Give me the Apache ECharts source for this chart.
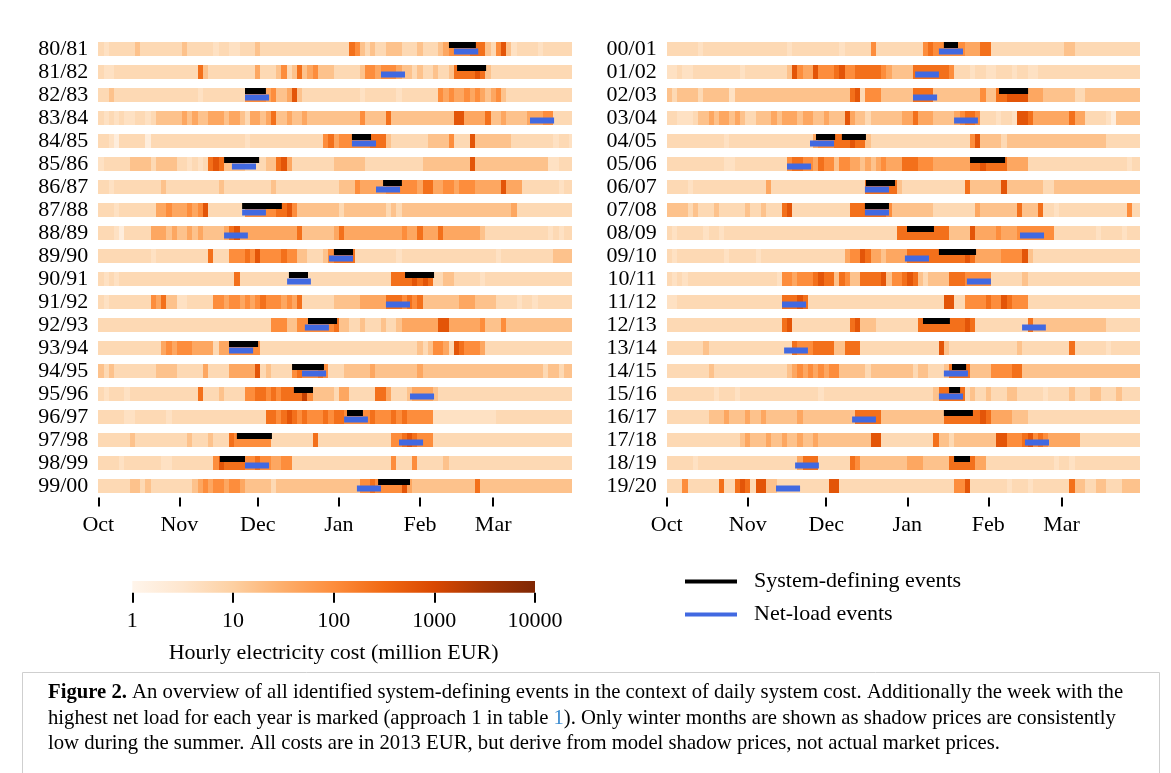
<!DOCTYPE html>
<html>
<head>
<meta charset="utf-8">
<title>System-defining events and daily system cost</title>
<script src="https://cdn.jsdelivr.net/npm/echarts@6.0.0/dist/echarts.min.js"></script>
<style>
html, body { margin: 0; padding: 0; background: #fff; }
#chart { width: 1171px; height: 773px; }
</style>
</head>
<body>
<div id="chart"></div>
<script>
// winter seasons, one strip each
var yearsLeft = ['80/81','81/82','82/83','83/84','84/85','85/86','86/87','87/88','88/89','89/90',
                 '90/91','91/92','92/93','93/94','94/95','95/96','96/97','97/98','98/99','99/00'];
var yearsRight = ['00/01','01/02','02/03','03/04','04/05','05/06','06/07','07/08','08/09','09/10',
                  '10/11','11/12','12/13','13/14','14/15','15/16','16/17','17/18','18/19','19/20'];

// x axis: days since 1 Oct
var monthTicks = [0, 31, 61, 92, 123, 151];
var monthNames = ['Oct', 'Nov', 'Dec', 'Jan', 'Feb', 'Mar'];
var DAYS = 181;

// cost levels (million EUR) used by the strings below, one digit per 2 days
var levelCost = [1.8, 4.2, 6.3, 16, 40, 100, 250, 630, 1600, 4000];

var costLeft = [
  '21222 22322 22222 23222 22122 11222 32222 22222 22222 22265 32322 33322 23222 34555 56663 25731 22221 22222 2',
  '21122 22222 22222 22226 32222 22222 42223 52363 45333 22222 35545 55433 23223 22366 66763 22222 22222 22222 2',
  '22322 22222 22222 22221 22222 22255 55453 34732 22222 22222 12222 22122 22222 54544 54543 45322 22222 22222 2',
  '21212 11221 23333 34343 34443 44324 43463 34334 33333 33333 53333 63333 33333 33377 44446 33433 33444 55222 2',
  '22102 22220 22222 22222 22222 22212 22222 22222 22256 45555 55666 32222 22233 33522 27333 33332 22222 22122 1',
  '12222 23333 23333 22121 26763 33322 22336 74222 22222 33333 32222 22222 22333 33333 37333 33333 33333 31122 2',
  '22122 22222 22322 22222 22232 22222 22232 22222 22222 23335 44444 55555 54664 45545 55444 44744 42222 22212 2',
  '22212 22222 24454 44545 72222 22255 55556 67533 33333 32333 33333 23233 33333 33333 33333 33334 22222 22222 2',
  '22210 22222 44434 33434 33334 67444 44444 44463 33333 46444 44444 44454 46444 64444 44432 22222 22222 21212 2',
  '22222 22222 12222 22222 26222 55565 75555 65533 22235 66662 22222 22122 22222 22222 22222 21222 22222 22333 3',
  '21212 22222 22222 22222 22222 26222 22222 22222 22222 22222 22222 26666 76762 23322 22212 22222 22222 22222 2',
  '21222 22222 54633 11222 22554 55454 56555 45462 22222 33333 44444 66656 56333 33334 44333 32222 12212 22222 2',
  '22222 22222 22222 22222 22222 22222 22255 53355 55555 63322 32223 22344 44444 77444 44453 33533 33333 33333 3',
  '22222 22222 22454 55544 44244 55555 52222 22222 22222 22222 22222 22222 23235 54276 55542 22222 22222 22222 2',
  '32322 22222 23333 22222 42222 44444 72322 22565 55652 22333 33433 33333 34333 33333 33333 33333 33333 23323 3',
  '21222 12222 22222 22226 22232 22255 66565 66668 53333 24422 22266 42223 44443 22222 22222 22222 22222 22222 2',
  '22222 11222 22212 22222 22222 22222 22665 67656 55565 66555 55655 56565 55551 11111 11111 12222 22222 22222 2',
  '22222 23222 22222 22322 23222 65555 55522 22222 26222 22222 22222 25567 65552 22222 22222 22222 22222 22222 2',
  '22221 22222 22112 22222 22576 66655 65544 55222 22222 22222 22222 25222 52222 23222 22222 22222 22222 22222 2',
  '22222 23323 22222 22234 54554 55433 33323 33333 33333 33333 55655 55574 33333 33333 33633 33333 33333 33333 3'
];

var costRight = [
  '22222 21222 22222 22222 22212 22222 22212 22225 22222 22225 65555 55444 66222 22222 22222 23322 22222 22222 2',
  '11211 22222 22221 22222 22237 54475 55675 56666 65433 33666 66665 22212 21122 21221 12222 22222 22222 22222 2',
  '32333 32333 33133 33333 33333 33333 33333 67255 53333 33666 63333 33333 53366 77774 44333 33322 33333 33333 3',
  '22111 23343 44343 22333 43444 34433 43337 43323 33333 44644 43333 45665 22212 21776 44444 44644 22221 03333 3',
  '22222 22222 21222 22222 22222 22245 55666 76632 22222 22222 22222 22257 33332 33333 33333 33333 33332 22222 2',
  '22222 22222 21122 22222 22256 65546 55355 44343 45444 66655 54444 44466 76666 44442 22222 22222 22222 22212 2',
  '22221 22222 22222 22224 22222 22222 22222 22266 66663 22222 22222 22633 33337 33333 33223 33333 33333 33333 3',
  '33332 32223 22222 32232 22672 22222 22222 66666 66533 33333 32222 22224 33333 33633 36221 22222 22222 22252 2',
  '21222 22122 12222 22222 22222 22222 22222 22222 22226 66666 66663 33374 44454 44555 55552 22222 22122 22122 2',
  '21222 22222 21222 22122 22222 22222 22224 55764 43444 46666 66666 66764 44445 55573 22222 22222 22222 22222 2',
  '21212 22222 22222 22222 21554 55567 66365 33666 67355 67632 33336 66555 55222 22232 22222 22222 22222 22222 2',
  '11222 22222 22222 22222 22666 76222 22222 22222 22222 22222 22277 22555 56557 65552 22222 22222 22222 22222 2',
  '22222 22222 22222 22222 22672 22222 22222 67333 22222 22266 66666 66762 22222 22226 33333 33333 33332 22222 2',
  '22222 22322 22222 22222 22226 55566 66336 66222 22222 22222 22732 22222 22222 22322 22222 22622 22221 22222 2',
  '22222 22232 22222 22222 22234 54545 45533 33323 33333 33233 22236 66633 33555 56633 33333 33333 33333 33333 3',
  '22222 22221 22212 22222 22222 22221 22222 22222 22222 22222 23666 66232 23222 33222 22122 22322 23322 23222 2',
  '22222 22233 34333 43343 33333 43333 33333 36666 63333 33333 33366 66666 76444 43332 22222 22222 22222 22222 2',
  '22222 22222 22223 43334 33433 43343 33333 33337 72222 22222 26332 33333 33377 55567 56544 44442 22222 22222 2',
  '22222 12222 22222 22222 22222 46662 22222 65333 33333 34443 33336 66664 42222 22222 22221 22122 22222 22222 2',
  '22252 22222 62267 62773 32222 22222 27722 22222 22222 22222 22222 55722 22222 12221 22222 22633 22332 22333 3'
];

// events: [row, first day, last day]
var sysLeft = [[0,134.1,144.4],[1,137.2,148.3],[2,56.1,64.1],[4,97.0,104.3],[5,48.1,61.5],[6,108.9,116.1],
  [7,55.0,70.2],[9,90.1,97.4],[10,72.9,80.2],[10,117.3,128.4],[12,80.2,91.3],[13,50.0,61.1],[14,74.1,86.3],
  [15,74.8,82.1],[16,95.1,101.2],[17,53.0,66.4],[18,46.5,56.1],[19,107.0,119.2]];
var netLeft = [[0,136.0,145.3],[1,108.1,117.3],[2,56.1,65.3],[3,165.1,174.3],[4,97.0,106.2],[5,51.1,60.3],
  [6,106.2,115.4],[7,55.0,64.1],[8,48.1,57.2],[9,88.2,97.4],[10,72.2,81.3],[11,110.0,119.2],[12,79.0,88.2],
  [13,50.0,59.2],[14,77.9,87.1],[15,119.2,128.4],[16,94.0,103.1],[17,115.0,124.2],[18,56.1,65.3],[19,98.9,108.1]];
var sysRight = [[0,106.0,111.4],[2,127.1,138.2],[4,57.1,64.4],[4,67.0,76.2],[5,116.0,129.4],[6,76.2,87.3],
  [7,75.8,85.0],[8,91.9,102.2],[9,104.1,118.3],[12,98.0,108.3],[14,109.1,114.5],[15,108.0,112.2],
  [16,106.0,117.1],[18,109.9,116.0]];
var netRight = [[0,104.1,113.3],[1,95.0,104.1],[2,94.2,103.4],[3,109.9,119.0],[4,54.8,64.0],[5,46.0,55.2],
  [6,75.8,85.0],[7,75.8,85.0],[8,135.1,144.3],[9,91.1,100.3],[10,114.8,124.0],[11,44.1,53.3],[12,135.9,145.0],
  [13,44.9,54.0],[14,106.0,115.2],[15,104.1,113.3],[16,70.9,80.0],[17,137.0,146.2],[18,49.1,58.2],[19,41.8,51.0]];

var colorbarTicks = [1, 10, 100, 1000, 10000];

var oranges = ['#fff5eb','#fee6ce','#fdd0a2','#fdae6b','#fd8d3c','#f16913','#d94801','#a63603','#7f2704'];
var serif = "'Liberation Serif', 'DejaVu Serif', serif";

function cellsOf(rows) {
  var out = [];
  rows.forEach(function (s, r) {
    var str = s.replace(/ /g, '');
    for (var c = 0; c < str.length && c * 2 < DAYS; c++) {
      out.push([c * 2, r, Math.log10(levelCost[+str[c]])]);
    }
  });
  return out;
}
function eventsOf(list) {
  return list.map(function (e) { return [e[1], e[2], e[0]]; });
}

// cells snapped to whole pixels so neighbours meet without seams
function renderCell(params, api) {
  var x0 = api.value(0), row = api.value(1);
  var x1 = Math.min(x0 + 2, DAYS);
  var a = api.coord([x0, row]);
  var b = api.coord([x1, row]);
  var left = Math.round(a[0]), right = Math.round(b[0]);
  return {
    type: 'rect',
    shape: { x: left, y: Math.round(a[1] - 7), width: right - left, height: 14 },
    style: { fill: api.visual('color') }
  };
}
function renderEvent(offset) {
  return function (params, api) {
    var a = api.coord([api.value(0), api.value(2)]);
    var b = api.coord([api.value(1), api.value(2)]);
    return {
      type: 'rect',
      shape: { x: a[0], y: a[1] + offset, width: b[0] - a[0], height: 6 },
      style: { fill: api.visual('color') }
    };
  };
}

function monthAxis(gridIndex) {
  return {
    type: 'value', gridIndex: gridIndex, min: 0, max: DAYS,
    axisLine: { show: false },
    splitLine: { show: false },
    axisTick: { show: true, customValues: monthTicks, length: 9, lineStyle: { color: '#000', width: 2 } },
    axisLabel: {
      customValues: monthTicks, margin: 17,
      fontFamily: serif, fontSize: 22, color: '#000',
      formatter: function (v) { return monthNames[monthTicks.indexOf(v)]; }
    }
  };
}
function yearAxis(gridIndex, years) {
  return {
    type: 'category', gridIndex: gridIndex, data: years, inverse: true,
    axisLine: { show: false }, axisTick: { show: false },
    axisLabel: { interval: 0, margin: 10, fontFamily: serif, fontSize: 22, color: '#000' }
  };
}

var chart = echarts.init(document.getElementById('chart'));

chart.setOption({
  backgroundColor: '#fff',
  animation: false,
  grid: [
    { left: 98.3, top: 37.5, width: 473.3, height: 460 },
    { left: 666.7, top: 37.5, width: 473.3, height: 460 },
    {
      left: 132.3, top: 581, width: 402.7, height: 11.7, show: true, borderWidth: 0,
      backgroundColor: new echarts.graphic.LinearGradient(0, 0, 1, 0,
        oranges.map(function (c, i) { return { offset: i / (oranges.length - 1), color: c }; }))
    }
  ],
  xAxis: [
    monthAxis(0),
    monthAxis(1),
    {
      type: 'log', gridIndex: 2, min: 1, max: 10000, logBase: 10,
      axisLine: { show: false }, splitLine: { show: false },
      axisTick: { show: true, customValues: colorbarTicks, length: 10, lineStyle: { color: '#000', width: 2 } },
      axisLabel: {
        customValues: colorbarTicks, margin: 18, fontFamily: serif, fontSize: 22, color: '#000',
        formatter: function (v) { return String(Math.round(v)); }
      },
      name: 'Hourly electricity cost (million EUR)', nameLocation: 'middle', nameGap: 50,
      nameTextStyle: { fontFamily: serif, fontSize: 22, color: '#000' }
    }
  ],
  yAxis: [
    yearAxis(0, yearsLeft),
    yearAxis(1, yearsRight),
    { type: 'value', gridIndex: 2, show: false, min: 0, max: 1 }
  ],
  visualMap: {
    type: 'continuous', show: false, seriesIndex: [0, 1], dimension: 2,
    min: 0, max: 4, inRange: { color: oranges }
  },
  legend: {
    orient: 'vertical', left: 680, top: 565,
    itemWidth: 52, itemHeight: 4, itemGap: 10, icon: 'rect',
    selectedMode: false,
    textStyle: { fontFamily: serif, fontSize: 22, color: '#000', lineHeight: 23, padding: [0, 0, 0, 12] },
    data: ['System-defining events', 'Net-load events']
  },
  series: [
    { type: 'custom', name: 'costLeft', xAxisIndex: 0, yAxisIndex: 0, renderItem: renderCell,
      encode: { x: 0, y: 1 }, data: cellsOf(costLeft), z: 1 },
    { type: 'custom', name: 'costRight', xAxisIndex: 1, yAxisIndex: 1, renderItem: renderCell,
      encode: { x: 0, y: 1 }, data: cellsOf(costRight), z: 1 },
    { type: 'custom', name: 'System-defining events', xAxisIndex: 0, yAxisIndex: 0, renderItem: renderEvent(-7),
      encode: { x: [0, 1], y: 2 }, itemStyle: { color: '#000' }, data: eventsOf(sysLeft), z: 3 },
    { type: 'custom', name: 'Net-load events', xAxisIndex: 0, yAxisIndex: 0, renderItem: renderEvent(-0.5),
      encode: { x: [0, 1], y: 2 }, itemStyle: { color: '#4169e1' }, data: eventsOf(netLeft), z: 4 },
    { type: 'custom', name: 'System-defining events', xAxisIndex: 1, yAxisIndex: 1, renderItem: renderEvent(-7),
      encode: { x: [0, 1], y: 2 }, itemStyle: { color: '#000' }, data: eventsOf(sysRight), z: 3 },
    { type: 'custom', name: 'Net-load events', xAxisIndex: 1, yAxisIndex: 1, renderItem: renderEvent(-0.5),
      encode: { x: [0, 1], y: 2 }, itemStyle: { color: '#4169e1' }, data: eventsOf(netRight), z: 4 }
  ],
  graphic: [
    { type: 'rect', shape: { x: 22.5, y: 672.5, width: 1137, height: 130 },
      style: { fill: 'none', stroke: '#cfcfcf', lineWidth: 1 } },
    { type: 'text', x: 48, y: 693,
      style: { text: '{b|Figure 2.} An overview of all identified system-defining events in the context of daily system cost. Additionally the week with the',
        fontFamily: serif, fontSize: 20.7, fill: '#000', verticalAlign: 'middle',
        rich: { b: { fontFamily: serif, fontSize: 20.7, fontWeight: 'bold', fill: '#000' } } } },
    { type: 'text', x: 48, y: 719,
      style: { text: 'highest net load for each year is marked (approach 1 in table {l|1}). Only winter months are shown as shadow prices are consistently',
        fontFamily: serif, fontSize: 20.7, fill: '#000', verticalAlign: 'middle',
        rich: { l: { fontFamily: serif, fontSize: 20.7, fill: '#3b8bd0' } } } },
    { type: 'text', x: 48, y: 744,
      style: { text: 'low during the summer. All costs are in 2013 EUR, but derive from model shadow prices, not actual market prices.',
        fontFamily: serif, fontSize: 20.7, fill: '#000', verticalAlign: 'middle' } }
  ]
});
</script>
</body>
</html>
